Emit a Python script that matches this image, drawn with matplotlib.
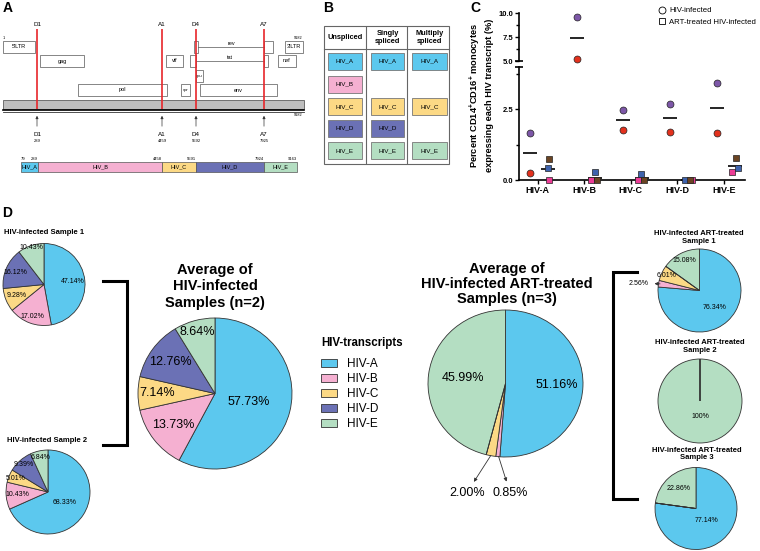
import matplotlib.pyplot as plt
import numpy as np
from matplotlib.patches import Rectangle, Patch
from matplotlib.lines import Line2D

plt.rcParams['font.family'] = ['Liberation Sans', 'DejaVu Sans']
plt.rcParams['mathtext.fontset'] = 'custom'
plt.rcParams['mathtext.rm'] = 'Liberation Sans'
plt.rcParams['mathtext.bf'] = 'Liberation Sans:bold'

W, H = 760, 551

## data

transcripts = ['HIV-A', 'HIV-B', 'HIV-C', 'HIV-D', 'HIV-E']
tx_colors = ['#5CC8EE', '#F5B0D1', '#FCD985', '#6B71B5', '#B4DEC2']

# A: genome schematic (schematic units, not to scale)
gene_names = ["5'LTR", 'gag', 'pol', 'vif', 'vpr', 'vpu', 'env', 'nef', "3'LTR"]
gene_start = [3, 40, 78, 166, 181, 196, 200, 278, 285]
gene_end = [35, 84, 167, 183, 190, 203, 277, 296, 303]
gene_row = [0, 1, 3, 1, 3, 2, 3, 1, 0]
spliced_genes = ['rev', 'tat']
spliced_exons = [[(194, 198), (264, 273)], [(190, 196), (264, 268)]]
spliced_row = [0, 1]
site_names = ['D1', 'A1', 'D4', 'A7']
site_nt = [289, 4459, 5592, 7925]
site_x = [37, 162, 196, 264]
seg_names = ['HIV_A', 'HIV_B', 'HIV_C', 'HIV_D', 'HIV_E']
seg_edges = [21, 38, 162, 196, 264, 297]
seg_nt = [79, 289, 4458, 5591, 7924, 9163]

# B: which transcripts belong to each splice class
splice_classes = ['Unspliced', 'Singly\nspliced', 'Multiply\nspliced']
class_members = [[1, 1, 1, 1, 1], [1, 0, 1, 1, 1], [1, 0, 1, 0, 1]]

# C: percent of CD14+CD16+ monocytes expressing each transcript
inf_purple = [1.65, 9.58, 2.46, 2.68, 3.44]
inf_red = [0.27, 5.20, 1.76, 1.70, 1.67]
art_pink = [0.0, 0.0, 0.0, 0.0, 0.30]
art_blue = [0.43, 0.28, 0.23, 0.0, 0.45]
art_brown = [0.74, 0.0, 0.0, 0.0, 0.77]

# D: pies (A, B, C, D, E)
pie_inf1 = [47.14, 17.02, 9.28, 16.12, 10.43]
pie_inf2 = [68.33, 10.43, 5.01, 9.39, 6.84]
pie_inf_avg = [57.73, 13.73, 7.14, 12.76, 8.64]
pie_art_avg = [51.16, 0.85, 2.00, 0.0, 45.99]
pie_art1 = [76.34, 2.56, 6.01, 0.0, 15.08]
pie_art2 = [0.0, 0.0, 0.0, 0.0, 100.0]
pie_art3 = [77.14, 0.0, 0.0, 0.0, 22.86]


def px_box(x0, y0, x1, y1):
    return [x0 / W, 1 - y1 / H, (x1 - x0) / W, (y1 - y0) / H]


def pct(v):
    return '100%' if v >= 100 else '{:.2f}%'.format(v)


fig = plt.figure(figsize=(W / 100, H / 100), dpi=100)

# canvas in pixel units for the schematic parts
cv = fig.add_axes([0, 0, 1, 1])
cv.set_xlim(0, W)
cv.set_ylim(H, 0)
cv.axis('off')

for s, x, y in [('A', 3, 8), ('B', 323, 8), ('C', 470, 8), ('D', 2, 213)]:
    cv.text(x, y, s, fontsize=10, fontweight='bold', ha='left', va='center')

## Panel A
row_top = [41, 55, 70, 84]
row_h = 12
for name, x0, x1, r in zip(gene_names, gene_start, gene_end, gene_row):
    cv.add_patch(Rectangle((x0, row_top[r]), x1 - x0, row_h, fc='white', ec='#555555', lw=0.5))
    cv.text((x0 + x1) / 2, row_top[r] + row_h / 2, name, fontsize=3 if x1 - x0 < 10 else 4,
            ha='center', va='center')
for name, exons, r in zip(spliced_genes, spliced_exons, spliced_row):
    ym = row_top[r] + row_h / 2
    for x0, x1 in exons:
        cv.add_patch(Rectangle((x0, row_top[r]), x1 - x0, row_h, fc='white', ec='#555555', lw=0.5))
    cv.plot([exons[0][1], exons[1][0]], [ym, ym], color='#555555', lw=0.5)
    cv.text((exons[0][1] + exons[1][0]) / 2, ym - 1, name, fontsize=4, ha='center', va='bottom')

cv.add_patch(Rectangle((3, 100), 301, 9, fc='#BEBEBE', ec='#444444', lw=0.5))
cv.plot([3, 304], [109.5, 109.5], color='black', lw=1.2)
cv.plot([3, 304], [112, 112], color='#333333', lw=0.6)
cv.text(3, 40, '1', fontsize=2.8, ha='left', va='bottom')
cv.text(303, 40, '9182', fontsize=2.8, ha='right', va='bottom')
cv.text(303, 113, '9182', fontsize=2.8, ha='right', va='top')

cv.vlines(site_x, 29, 109, color='#E8262B', lw=1.2, zorder=5)
for name, nt, x in zip(site_names, site_nt, site_x):
    cv.text(x, 27, name, fontsize=4.5, ha='center', va='bottom')
    cv.annotate('', xy=(x, 113), xytext=(x, 129),
                arrowprops=dict(arrowstyle='-|>', lw=0.5, color='#333333', mutation_scale=4))
    cv.text(x, 134, name, fontsize=4.5, ha='center', va='center')
    cv.text(x, 141, str(nt), fontsize=3, ha='center', va='center')

for i, name in enumerate(seg_names):
    x0, x1 = seg_edges[i], seg_edges[i + 1]
    cv.add_patch(Rectangle((x0, 162), x1 - x0, 10, fc=tx_colors[i], ec='#555555', lw=0.5))
    cv.text((x0 + x1) / 2, 167, name, fontsize=4, ha='center', va='center')
for j, (x, nt) in enumerate(zip(seg_edges, seg_nt)):
    cv.text(x, 161, str(nt), fontsize=3, ha='left' if j == 0 else 'right', va='bottom')

## Panel B
cv.add_patch(Rectangle((324, 26), 125, 138, fc='none', ec='#666666', lw=0.8))
cv.vlines([366, 407], 26, 164, color='#666666', lw=0.8)
cv.plot([324, 449], [49, 49], color='#666666', lw=0.8)
col_x = [(328, 362), (371, 404), (412, 447)]
row_y = [61, 84, 106.5, 128, 150.5]
for c, (cls, members) in enumerate(zip(splice_classes, class_members)):
    x0, x1 = col_x[c]
    cv.text((x0 + x1) / 2, 37.5, cls, fontsize=5.3, fontweight='bold', ha='center', va='center',
            linespacing=1.1)
    for r, m in enumerate(members):
        if not m:
            continue
        cv.add_patch(Rectangle((x0, row_y[r] - 8.5), x1 - x0, 17, fc=tx_colors[r], ec='#777777', lw=0.6))
        cv.text((x0 + x1) / 2, row_y[r], seg_names[r], fontsize=4.5, ha='center', va='center')

## Panel C
x = np.arange(len(transcripts))
ax_bot = fig.add_axes(px_box(519, 66.7, 745, 180.3))
ax_top = fig.add_axes(px_box(519, 13.3, 745, 61))
ax_bot.set_ylim(0, 4)
ax_top.set_ylim(5, 10)
for ax in (ax_bot, ax_top):
    ax.set_xlim(-0.4, 4.45)
    ax.set_facecolor('none')
    ax.spines[['top', 'right']].set_visible(False)
    ax.spines['left'].set_linewidth(1.2)
    ax.spines['bottom'].set_linewidth(1.2)
    ax.tick_params(width=1, length=3, labelsize=5.5, pad=1)
    ax.tick_params(which='minor', width=1, length=2)
ax_top.spines['bottom'].set_visible(False)
ax_top.set_xticks([])
ax_top.set_yticks([5, 7.5, 10], ['5.0', '7.5', '10.0'], fontweight='bold')
ax_top.set_yticks([6.25, 8.75], minor=True)
ax_bot.set_yticks([0, 2.5], ['0.0', '2.5'], fontweight='bold')
ax_bot.set_yticks([1.25, 3.75], minor=True)
ax_bot.set_xticks(x, transcripts, fontsize=6.5, fontweight='bold')
# axis break marks
for ax, yy in ((ax_top, 0), (ax_bot, 1)):
    ax.plot(0, yy, marker='_', ms=6, mew=1.2, color='black', transform=ax.transAxes, clip_on=False)

inf_off = -0.16
art_mean_off = 0.23
art_off = {'pink': [0.24, 0.15, 0.15, 0.32, 0.17],
           'blue': [0.22, 0.24, 0.22, 0.17, 0.30],
           'brown': [0.24, 0.28, 0.28, 0.26, 0.26]}


def dots(vals, xs, marker, color, ms=5, mew=0.5):
    vals = np.asarray(vals)
    for ax in (ax_bot, ax_top):
        lo, hi = ax.get_ylim()
        keep = (vals >= lo) & (vals <= hi)
        ax.plot(np.asarray(xs)[keep], vals[keep], ls='none', marker=marker, ms=ms, mfc=color,
                mec='#222222' if marker != '_' else color, mew=mew, clip_on=False, zorder=3)


inf_mean = np.mean([inf_purple, inf_red], axis=0)
art_mean = np.mean([art_pink, art_blue, art_brown], axis=0)
dots(inf_mean, x + inf_off, '_', 'black', ms=9.5, mew=1.2)
dots(art_mean, x + art_mean_off, '_', 'black', ms=9.5, mew=1.2)
dots(inf_purple, x + inf_off, 'o', '#7D57A8')
dots(inf_red, x + inf_off, 'o', '#E3311D')
dots(art_pink, x + np.array(art_off['pink']), 's', '#EC3D96')
dots(art_blue, x + np.array(art_off['blue']), 's', '#3F63AD')
dots(art_brown, x + np.array(art_off['brown']), 's', '#6B4423')

fig.text(481 / W, 1 - 95 / H,
         'Percent CD14$^{\\mathbf{+}}$CD16$^{\\mathbf{+}}$ monocytes\nexpressing each HIV transcript (%)',
         rotation=90, fontsize=6.7, fontweight='bold', ha='center', va='center', linespacing=1.3)
fig.legend(handles=[Line2D([], [], marker='o', ls='none', mfc='white', mec='black', ms=5, mew=0.6,
                           label='HIV-infected'),
                    Line2D([], [], marker='s', ls='none', mfc='white', mec='black', ms=5, mew=0.6,
                           label='ART-treated HIV-infected')],
           loc='upper left', bbox_to_anchor=(659 / W, 1 - 7 / H), frameon=False, fontsize=5.6,
           handlelength=0.8, handletextpad=0.5, labelspacing=0.55, borderpad=0, borderaxespad=0)

## Panel D


def draw_pie(vals, cx, cy, rx, ry, fracs, fs):
    m = 1.03
    ax = fig.add_axes(px_box(cx - rx * m, cy - ry * m, cx + rx * m, cy + ry * m))
    wedges, _ = ax.pie(vals, colors=tx_colors, startangle=90, counterclock=False,
                       wedgeprops=dict(edgecolor='#333333', linewidth=0.6))
    ax.set_aspect('auto')
    ax.set_xlim(-m, m)
    ax.set_ylim(-m, m)
    for w, v, f in zip(wedges, vals, fracs):
        if v == 0:
            # empty slices keep their radial edge visible
            w.set_zorder(3)
        if f is None:
            continue
        a = np.deg2rad((w.theta1 + w.theta2) / 2)
        ax.text(f * np.cos(a), f * np.sin(a), pct(v), fontsize=fs, ha='center', va='center')
    return ax


draw_pie(pie_inf1, 44, 284.5, 41, 41, [0.7, 0.84, 0.73, 0.75, 0.95], 5)
draw_pie(pie_inf2, 48, 492, 42, 42, [0.46, 0.74, 0.84, 0.88, 0.85], 5)
draw_pie(pie_inf_avg, 215, 393.5, 77, 75.5, [0.45, 0.68, 0.75, 0.71, 0.84], 9)
ax_aa = draw_pie(pie_art_avg, 505.5, 383.5, 77.5, 73.5, [0.66, None, None, None, 0.56], 9)
ax_a1 = draw_pie(pie_art1, 699.5, 290.5, 41.5, 41.5, [0.55, None, 0.88, None, 0.81], 5)
draw_pie(pie_art2, 700, 401, 42, 42, [None, None, None, None, 0.36], 5)
draw_pie(pie_art3, 696, 508.5, 41, 41, [0.38, None, None, None, 0.65], 5)

arrow = dict(arrowstyle='<|-', lw=0.6, color='#333333', mutation_scale=5, shrinkA=2, shrinkB=0)
ax_aa.annotate(pct(pie_art_avg[2]), xy=(-0.19, -0.98), xytext=(-0.50, -1.49), fontsize=9,
               ha='center', va='center', annotation_clip=False, arrowprops=arrow)
ax_aa.annotate(pct(pie_art_avg[1]), xy=(-0.09, -0.99), xytext=(0.06, -1.49), fontsize=9,
               ha='center', va='center', annotation_clip=False, arrowprops=arrow)
ax_a1.annotate(pct(pie_art1[1]), xy=(-0.95, 0.16), xytext=(-1.46, 0.18), fontsize=5,
               ha='center', va='center', annotation_clip=False, arrowprops=arrow)

cv.text(44, 233, 'HIV-infected Sample 1', fontsize=5.5, fontweight='bold', ha='center', va='center')
cv.text(47.5, 441, 'HIV-infected Sample 2', fontsize=5.5, fontweight='bold', ha='center', va='center')
for cx, ym, n in [(699, 237.5, 1), (700, 346.5, 2), (697, 454, 3)]:
    cv.text(cx, ym, 'HIV-infected ART-treated\nSample %d' % n, fontsize=5.5, fontweight='bold',
            ha='center', va='center', linespacing=1.05)
cv.text(215, 286.5, 'Average of\nHIV-infected\nSamples (n=2)', fontsize=10.5, fontweight='bold',
        ha='center', va='center', linespacing=1.25)
cv.text(507, 284, 'Average of\nHIV-infected ART-treated\nSamples (n=3)', fontsize=10.5,
        fontweight='bold', ha='center', va='center', linespacing=1.08)

cv.plot([103, 127, 127, 103], [281, 281, 445, 445], color='black', lw=2.2, solid_joinstyle='miter')
cv.plot([637, 613, 613, 637], [272, 272, 499, 499], color='black', lw=2.2, solid_joinstyle='miter')

cv.text(321, 343, 'HIV-transcripts', fontsize=8.3, fontweight='bold', ha='left', va='center')
fig.legend(handles=[Patch(fc=c, ec='#333333', lw=0.6, label=t) for c, t in zip(tx_colors, transcripts)],
           loc='upper left', bbox_to_anchor=(321 / W, 1 - 358 / H), frameon=False, fontsize=8.5,
           handlelength=1.36, handleheight=0.7, handletextpad=0.85, labelspacing=0.25,
           borderpad=0, borderaxespad=0)

fig.savefig('out.png', dpi=100)
